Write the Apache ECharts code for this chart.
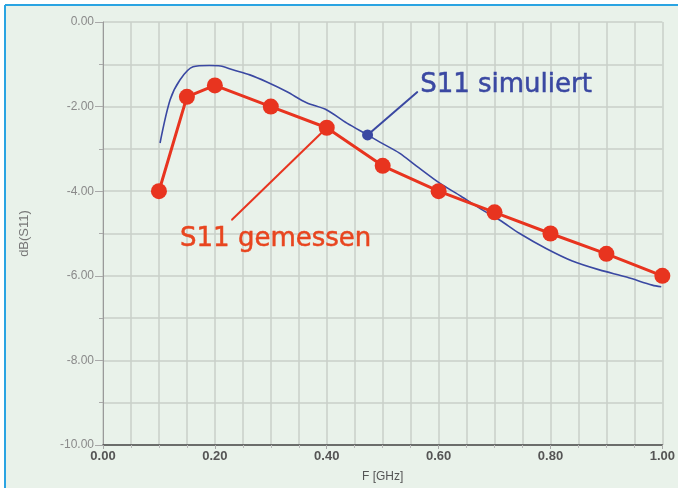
<!DOCTYPE html>
<html>
<head>
<meta charset="utf-8">
<script src="https://cdn.jsdelivr.net/npm/echarts@6/dist/echarts.min.js"></script>
<style>
  html, body { margin: 0; padding: 0; background: #ffffff; }
  #chart { width: 678px; height: 488px; }
</style>
</head>
<body>
<div id="chart"></div>
<script>
// Measured return loss S11 (frequency in GHz, value in dB)
const measFreq = [0.10, 0.15, 0.20, 0.30, 0.40, 0.50, 0.60, 0.70, 0.80, 0.90, 1.00];
const measDb   = [-4.00, -1.77, -1.50, -2.00, -2.50, -3.40, -4.00, -4.50, -5.00, -5.48, -6.00];

// Simulated S11 curve
const simFreq = [0.102, 0.120, 0.1375, 0.161, 0.190, 0.210, 0.232, 0.2625, 0.293, 0.329, 0.364, 0.400,
                 0.436, 0.473, 0.495, 0.530, 0.560, 0.602, 0.640, 0.673, 0.709, 0.745, 0.793, 0.839,
                 0.8875, 0.936, 0.982, 0.998];
const simDb   = [-2.86, -1.84, -1.37, -1.06, -1.03, -1.04, -1.13, -1.25, -1.42, -1.65, -1.91, -2.08,
                 -2.39, -2.67, -2.84, -3.10, -3.40, -3.81, -4.12, -4.40, -4.68, -5.00, -5.36, -5.65,
                 -5.86, -6.03, -6.22, -6.26];

// Callout leader lines: [from point on curve, to label anchor]
const simCallout  = [[0.473, -2.67], [0.5625, -1.65]];
const measCallout = [[0.40, -2.50], [0.230, -4.68]];

const simLabel  = 'S11 simuliert';
const measLabel = 'S11 gemessen';
const xTitle = 'F [GHz]';
const yTitle = 'dB(S11)';

const RED = '#e8341f';
const BLUE = '#3a48a2';
const GRID = '#c9cfc9';

const zip = (a, b) => a.map((v, i) => [v, b[i]]);

const chart = echarts.init(document.getElementById('chart'), null, { renderer: 'canvas' });

const gridLine = { show: true, lineStyle: { color: GRID, width: 1.5 } };

chart.setOption({
  backgroundColor: '#ffffff',
  animation: false,
  graphic: [
    { type: 'rect', z: -10, shape: { x: 5, y: 5, width: 673, height: 483 }, style: { fill: '#e9f2ea' } },
    { type: 'line', z: 100, shape: { x1: 5, y1: 5, x2: 678, y2: 5 }, style: { stroke: '#2aa4e2', lineWidth: 2 } },
    { type: 'line', z: 100, shape: { x1: 5, y1: 5, x2: 5, y2: 488 }, style: { stroke: '#2aa4e2', lineWidth: 2 } }
  ],
  grid: { left: 103, top: 22, right: 15, bottom: 43, containLabel: false },
  xAxis: {
    type: 'value', min: 0, max: 1, interval: 0.2,
    name: xTitle, nameLocation: 'middle', nameGap: 26,
    nameTextStyle: { color: '#555', fontSize: 12, fontFamily: 'Liberation Sans' },
    axisLine: { show: true, onZero: false, lineStyle: { color: '#4a4a4a', width: 1.5 } },
    axisTick: { show: true, length: 4, lineStyle: { color: '#aaa' } },
    minorTick: { show: true, splitNumber: 4, length: 3, lineStyle: { color: '#bbb' } },
    axisLabel: { color: '#555', fontSize: 13, fontWeight: 'bold', fontFamily: 'Liberation Sans', margin: 5,
                 formatter: v => v.toFixed(2) },
    splitLine: gridLine,
    minorSplitLine: gridLine
  },
  yAxis: {
    type: 'value', min: -10, max: 0, interval: 2,
    name: yTitle, nameLocation: 'middle', nameGap: 72, nameRotate: 90,
    nameTextStyle: { color: '#777', fontSize: 13, fontFamily: 'Liberation Sans' },
    axisLine: { show: true, onZero: false, lineStyle: { color: '#9a9a9a', width: 1 } },
    axisTick: { show: true, length: 8, lineStyle: { color: '#aaa' } },
    minorTick: { show: true, splitNumber: 2, length: 4, lineStyle: { color: '#aaa' } },
    axisLabel: { color: '#8a8a8a', fontSize: 12, fontFamily: 'Liberation Sans', margin: 9,
                 formatter: v => v.toFixed(2) },
    splitLine: gridLine,
    minorSplitLine: gridLine
  },
  series: [
    {
      name: simLabel, type: 'line', smooth: 0.3, symbol: 'none',
      data: zip(simFreq, simDb),
      lineStyle: { color: BLUE, width: 1.6 }, z: 3
    },
    {
      name: 'simCallout', type: 'line', symbol: 'circle',
      lineStyle: { color: BLUE, width: 2 }, itemStyle: { color: BLUE }, z: 4,
      data: [
        { value: simCallout[0], symbolSize: 11 },
        { value: simCallout[1], symbolSize: 1,
          label: { show: true, position: 'right', distance: 2, offset: [0, -7],
                   formatter: simLabel, color: BLUE, fontSize: 26, fontFamily: 'DejaVu Sans',
                   textBorderColor: BLUE, textBorderWidth: 0.5 } }
      ]
    },
    {
      name: 'measCallout', type: 'line', symbol: 'circle',
      lineStyle: { color: RED, width: 2 }, itemStyle: { color: RED }, z: 4,
      data: [
        { value: measCallout[0], symbolSize: 1 },
        { value: measCallout[1], symbolSize: 1,
          label: { show: true, position: 'bottom', distance: 6, offset: [44, 0],
                   formatter: measLabel, color: '#e8451f', fontSize: 26, fontFamily: 'DejaVu Sans',
                   textBorderColor: '#e8451f', textBorderWidth: 0.5 } }
      ]
    },
    {
      name: measLabel, type: 'line', symbol: 'circle', symbolSize: 16,
      data: zip(measFreq, measDb),
      lineStyle: { color: RED, width: 3 }, itemStyle: { color: RED }, z: 5
    }
  ]
});
</script>
</body>
</html>
